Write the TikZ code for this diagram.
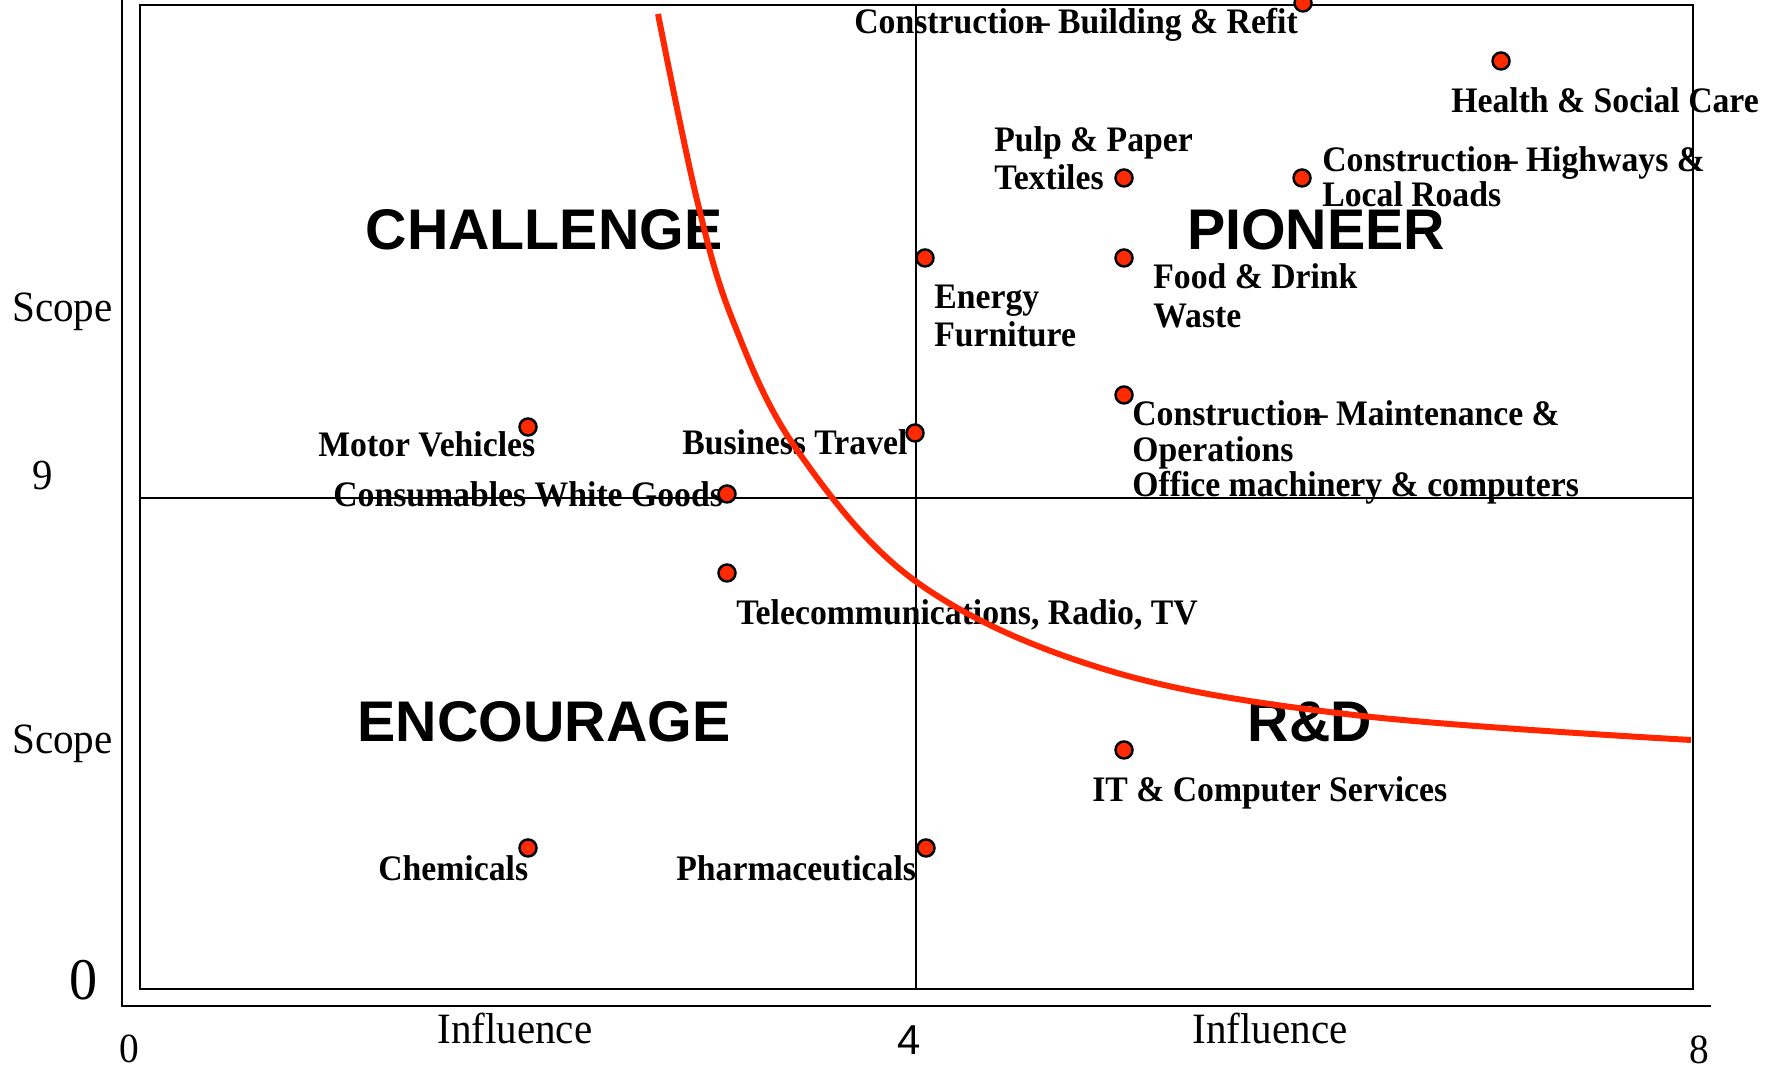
\documentclass[tikz,border=0pt]{standalone}
\usepackage{fontspec}
\setmainfont{Liberation Serif}
\newfontfamily\lblfont[FakeStretch=0.94]{Liberation Serif}
\newfontfamily\axfont[FakeStretch=0.95]{Liberation Serif}
\newfontfamily\quadfont{Liberation Sans}
\definecolor{curvered}{RGB}{255,38,0}
\definecolor{dotred}{RGB}{255,42,0}

\begin{document}
\begin{tikzpicture}[
      x = .01cm, y = -.01cm,
      every node/.style = {inner sep = 0pt, anchor = base west},
      sector/.style = {
        font = \lblfont\bfseries\fontsize{10.2}{10.1}\selectfont, align = left},
      quadrant/.style = {
        font = \quadfont\bfseries\fontsize{16.3}{18}\selectfont, anchor = base},
      axislabel/.style = {font = \axfont\fontsize{12.3}{14}\selectfont},
      dot/.style = {
        circle, draw = black, fill = dotred, line width = .7pt,
        minimum size = .17cm, anchor = center},
      every path/.style = {line width = .75pt}
      ]
    \useasboundingbox (0,0) rectangle (1775,1071);
    % axes and quadrant frame
    \draw (122,0) -- (122,1006) -- (1711,1006);
    \draw (140,5) rectangle (1693,989);
    \draw (916,5) -- (916,989);
    \draw (140,498) -- (1693,498);
    % axis labels
    \node[axislabel] (scopeA) at (11,322) {Scope};
    \node[axislabel] (scopeB) at (11,754) {Scope};
    \node[axislabel] (inflA) at (436,1044) {Influence};
    \node[axislabel] (inflB) at (1191,1044) {Influence};
    \node[font = \axfont\fontsize{12.2}{14}\selectfont] (ynine) at (31,490) {9};
    \node[font = \axfont\fontsize{16.8}{18}\selectfont] (yzero) at (68,1000) {0};
    \node[font = \axfont\fontsize{11.8}{14}\selectfont] (xzero) at (118,1063) {0};
    \node[font = \quadfont\fontsize{11.9}{14}\selectfont] (xfour) at (896,1055) {4};
    \node[font = \axfont\fontsize{11.8}{14}\selectfont] (xeight) at (1688,1064) {8};
    % quadrants
    \node[quadrant] (challenge) at (544,250) {CHALLENGE};
    \node[quadrant] (pioneer) at (1316,250) {PIONEER};
    \node[quadrant] (encourage) at (544,742) {ENCOURAGE};
    \node[quadrant] (rd) at (1310,742) {R\&D};
    % sector labels (multi-line ones sit on their last line)
    \node[sector] (tBuild) at (853,34) {Construction\kern-.3em– Building \& Refit}; % 0
    \node[sector] (tHealth) at (1450,113) {Health \& Social Care}; % 1
    \node[sector] (tPulp) at (993,190) {Pulp \& Paper\\[.85pt]Textiles}; % 2
    \node[sector] (tRoads) at (1321,207) {Construction\kern-.3em– Highways \&\\Local Roads}; % 3
    \node[sector] (tEnergy) at (933,347) {Energy\\[.85pt]Furniture}; % 4
    \node[sector] (tFood) at (1152,328) {Food \& Drink\\[1.2pt]Waste}; % 5
    \node[sector] (tMaint) at (1131,497) {Construction\kern-.3em– Maintenance \&\\Operations\\Office machinery \& computers}; % 6
    \node[sector] (tMotor) at (317,457) {Motor Vehicles}; % 7
    \node[sector] (tTravel) at (681,455) {Business Travel}; % 8
    \node[sector] (tWhite) at (332,507) {Consumables White Goods}; % 9
    \node[sector] (tTelecom) at (735,625) {Telecommunications, Radio, TV}; % 10
    \node[sector] (tIT) at (1091,802) {IT \& Computer Services}; % 11
    \node[sector] (tChem) at (377,881) {Chemicals}; % 12
    \node[sector] (tPharma) at (675,881) {Pharmaceuticals}; % 13
    % boundary curve
    \draw[curvered, line width = 1.7pt] plot[smooth, tension = .6] coordinates {
      (658,14) (697,200) (733,321) (797,450) (918,583) (1107,670) (1354,715) (1691,740)};
    % sectors
    \node[dot] (dBuild) at (1303,3) {}; % 0
    \node[dot] (dHealth) at (1501,61) {}; % 1
    \node[dot] (dPulp) at (1124,178) {}; % 2
    \node[dot] (dRoads) at (1302,178) {}; % 3
    \node[dot] (dEnergy) at (925,258) {}; % 4
    \node[dot] (dFood) at (1124,258) {}; % 5
    \node[dot] (dMaint) at (1124,395) {}; % 6
    \node[dot] (dMotor) at (528,427) {}; % 7
    \node[dot] (dTravel) at (915,433) {}; % 8
    \node[dot] (dWhite) at (727,494) {}; % 9
    \node[dot] (dTelecom) at (727,573) {}; % 10
    \node[dot] (dIT) at (1124,750) {}; % 11
    \node[dot] (dChem) at (528,848) {}; % 12
    \node[dot] (dPharma) at (926,848) {}; % 13
  \end{tikzpicture}
\end{document}
